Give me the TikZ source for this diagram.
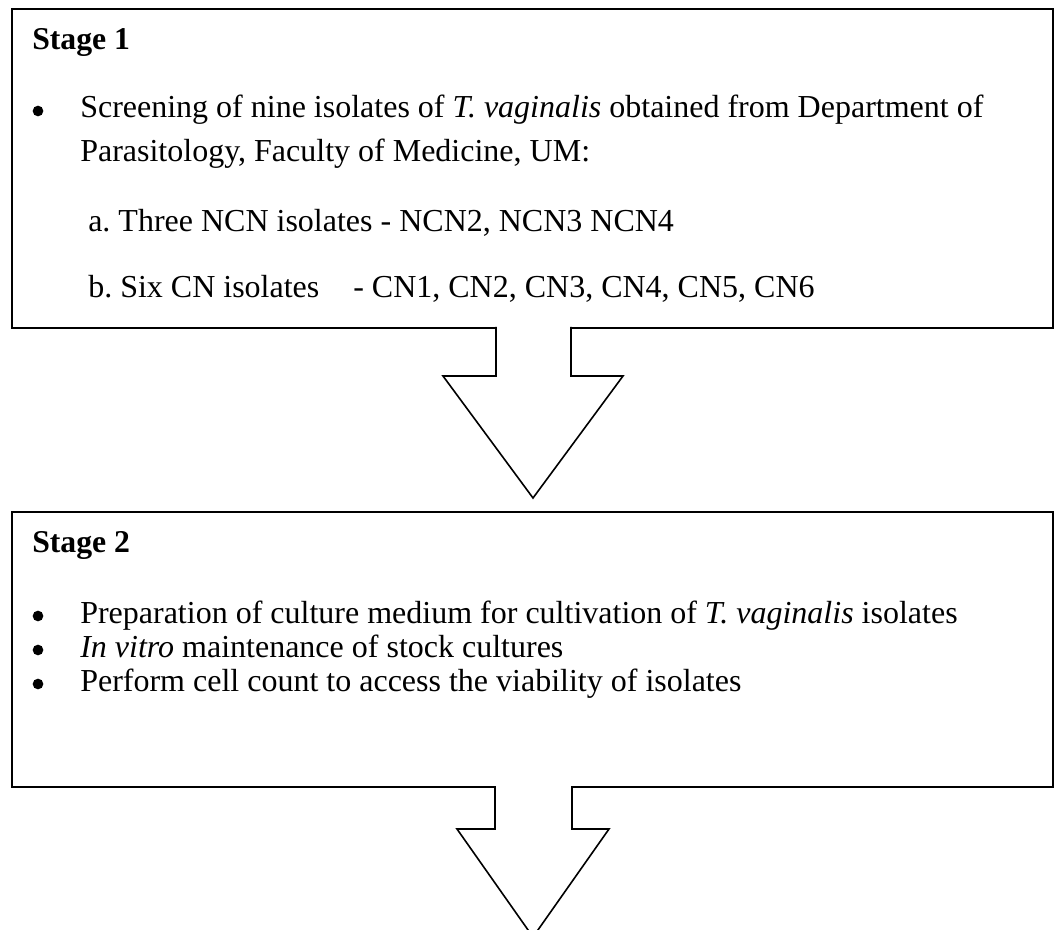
\documentclass[tikz,border=0pt]{standalone}
\usepackage{fontspec}
\setmainfont{Liberation Serif}
\frenchspacing
\begin{document}
\begin{tikzpicture}[x=0.75pt,y=-0.75pt,
  stagebox/.style={draw=black,line width=1.5pt,fill=white,inner sep=0pt,anchor=north west},
  txt/.style={anchor=base west,inner sep=0pt,font=\fontsize{24}{28}\selectfont},
  head/.style={anchor=base west,inner sep=0pt,font=\fontsize{23.8}{28}\selectfont\bfseries},
  blt/.style={circle,fill=black,inner sep=0pt,minimum size=8pt},
  arrowline/.style={draw=black,line width=1.2pt,line join=miter}]
\useasboundingbox (0,0) rectangle (1056,930);
\clip (0,0) rectangle (1056,930);
% boxes
\node[stagebox,minimum width=780.75pt,minimum height=239.25pt] (s1) at (11,8) {};
\node[stagebox,minimum width=780.75pt,minimum height=206.25pt] (s2) at (11,511) {};
% stage 1 text
\node[head] (h1) at (32,50) {Stage 1};
\node[blt] (b11) at (38,111) {};
\node[txt] (t11) at (80,118) {Screening of nine isolates of \textit{T. vaginalis} obtained from Department of};
\node[txt] (t12) at (80,162) {Parasitology, Faculty of Medicine, UM:};
\node[txt] (t13) at (88,232) {a. Three NCN isolates - NCN2, NCN3 NCN4};
\node[txt] (t14) at (88,298) {\makebox[198.75pt][l]{b. Six CN isolates}- CN1, CN2, CN3, CN4, CN5, CN6};
% arrow 1
\fill[white] (496,325) -- (496,376) -- (443,376) -- (533,498) -- (623,376) -- (571,376) -- (571,325) -- cycle;
\draw[arrowline] (496,327) -- (496,376) -- (443,376) -- (533,498) -- (623,376) -- (571,376) -- (571,327);
% stage 2 text
\node[head] (h2) at (32,552) {Stage 2};
\node[blt] (b21) at (38,616) {};
\node[txt] (t21) at (80,623) {Preparation of culture medium for cultivation of \textit{T. vaginalis} isolates};
\node[blt] (b22) at (38,650) {};
\node[txt] (t22) at (80,657) {\textit{In vitro} maintenance of stock cultures};
\node[blt] (b23) at (38,684) {};
\node[txt] (t23) at (80,691) {Perform cell count to access the viability of isolates};
% arrow 2
\fill[white] (495,784) -- (495,829) -- (457,829) -- (533,937) -- (609,829) -- (572,829) -- (572,784) -- cycle;
\draw[arrowline] (495,786) -- (495,829) -- (457,829) -- (533,937) -- (609,829) -- (572,829) -- (572,786);
\end{tikzpicture}
\end{document}
